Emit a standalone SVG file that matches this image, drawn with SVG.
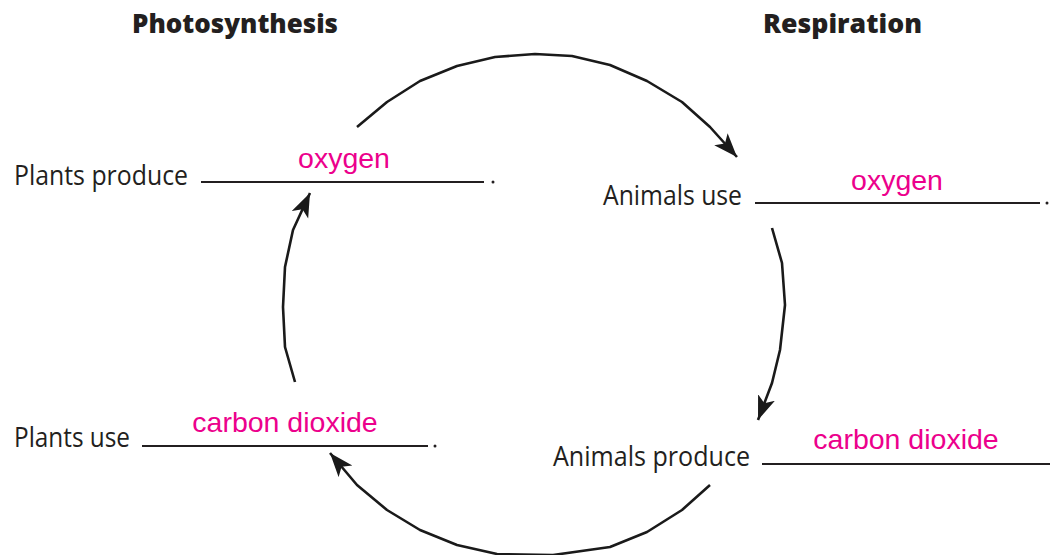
<svg xmlns="http://www.w3.org/2000/svg" width="1050" height="555" viewBox="0 0 1050 555">
<style>
.h{font-family:"Open Sans","Noto Sans",sans-serif;font-weight:800;font-size:26px;fill:#231f20}
.l{font-family:"Open Sans","Noto Sans",sans-serif;font-size:27px;fill:#231f20}
.a{font-family:"Liberation Sans",Arial,sans-serif;font-size:28.5px;fill:#ec008c;text-anchor:middle}
.u{stroke:#231f20;stroke-width:2;fill:none}
.c{stroke:#1a1a1a;stroke-width:2.6;fill:none;stroke-linejoin:round;marker-end:url(#ah)}
.d{fill:#231f20}
</style>
<defs>
<marker id="ah" markerUnits="userSpaceOnUse" markerWidth="28" markerHeight="20" refX="24" refY="9" orient="auto">
<path d="M0,0 L24,9 L0,18 L6,9 Z" fill="#1a1a1a"/>
</marker>
</defs>
<g id="headings">
<text class="h" x="132" y="33" textLength="206" lengthAdjust="spacingAndGlyphs">Photosynthesis</text>
<text class="h" x="763" y="33" textLength="159" lengthAdjust="spacingAndGlyphs">Respiration</text>
</g>
<g id="plants-produce">
<text class="l" x="14" y="185" textLength="174" lengthAdjust="spacingAndGlyphs">Plants produce</text>
<line class="u" x1="201" y1="182" x2="484" y2="182"/>
<circle class="d" cx="493" cy="182" r="1.5"/>
<text class="a" x="344" y="168">oxygen</text>
</g>
<g id="animals-use">
<text class="l" x="603" y="205" textLength="139" lengthAdjust="spacingAndGlyphs">Animals use</text>
<line class="u" x1="755" y1="203" x2="1040" y2="203"/>
<circle class="d" cx="1047" cy="203" r="1.5"/>
<text class="a" x="897" y="190">oxygen</text>
</g>
<g id="plants-use">
<text class="l" x="14" y="447" textLength="116" lengthAdjust="spacingAndGlyphs">Plants use</text>
<line class="u" x1="142" y1="446" x2="428" y2="446"/>
<circle class="d" cx="435" cy="446" r="1.5"/>
<text class="a" x="285" y="432">carbon dioxide</text>
</g>
<g id="animals-produce">
<text class="l" x="553" y="466" textLength="197" lengthAdjust="spacingAndGlyphs">Animals produce</text>
<line class="u" x1="762" y1="464" x2="1050" y2="464"/>
<text class="a" x="906" y="449">carbon dioxide</text>
</g>
<g id="connectors">
<polyline class="c" points="357,127 387,102 420,81 457,66 495,57 535,54 572,56 610,65 647,81 682,102 710,127 737,157"/>
<polyline class="c" points="772,228 782,263 785,305 780,350 772,383 758,420"/>
<polyline class="c" points="710,485 682,510 647,532 610,547 553,555 497,554 457,545 420,530 387,510 357,485 330,453"/>
<polyline class="c" points="295,382 285,347 283,307 285,267 293,230 310,193"/>
</g>
</svg>
